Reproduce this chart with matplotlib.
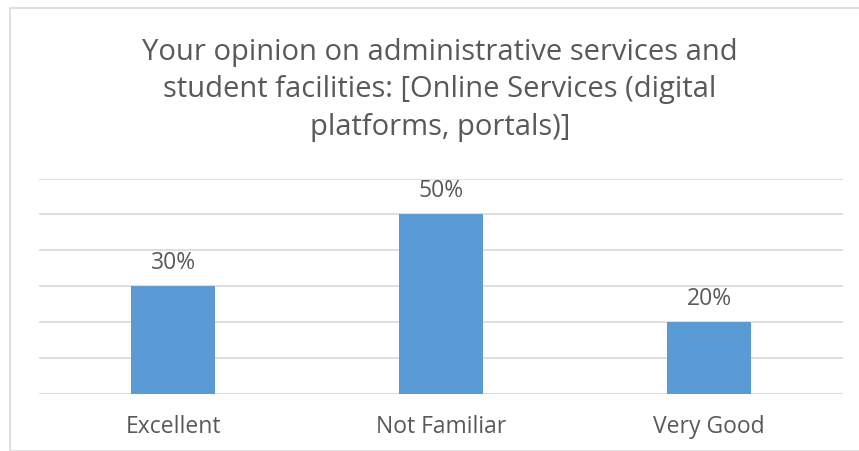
import matplotlib
matplotlib.use("Agg")
import matplotlib.pyplot as plt
from matplotlib.patches import Rectangle

categories = ["Excellent", "Not Familiar", "Very Good"]
values = [30, 50, 20]
labels = ["30%", "50%", "20%"]
title = "Your opinion on administrative services and\nstudent facilities: [Online Services (digital\nplatforms, portals)]"

W, H = 859, 451
fig = plt.figure(figsize=(W / 100, H / 100), dpi=100)
plt.rcParams['font.family'] = ['Open Sans', 'DejaVu Sans']
txt = "#595959"

# chart border
fig.patches.append(Rectangle((10 / W, 0), 1.2, (H - 8) / H, transform=fig.transFigure,
                             fill=False, edgecolor="#D9D9D9", linewidth=1.2))

ax = fig.add_axes([39 / W, (H - 394) / H, (843 - 39) / W, (394 - 178.5) / H])
ax.bar(range(len(categories)), values, width=0.313, color="#5B9BD5", zorder=3)
ax.set_xlim(-0.5, len(categories) - 0.5)
ax.set_ylim(0, 60)
ax.set_yticks(range(0, 61, 10))
ax.yaxis.grid(True, color="#D9D9D9", linewidth=1.2, zorder=0)
ax.tick_params(axis="y", left=False, labelleft=False)
ax.tick_params(axis="x", bottom=False, labelsize=16.5, colors=txt, pad=11.5)
ax.set_xticks(range(len(categories)))
ax.set_xticklabels(categories)
for s in ax.spines.values():
    s.set_visible(False)
for i, (v, l) in enumerate(zip(values, labels)):
    ax.annotate(l, (i, v), xytext=(0, 23), textcoords="offset pixels",
                ha="center", va="center", fontsize=16.5, color=txt)

fig.text(440 / W, 1 - 90 / H, title, ha="center", va="center", fontsize=21,
         color=txt, linespacing=1.4)

fig.savefig("out.png", dpi=100)
